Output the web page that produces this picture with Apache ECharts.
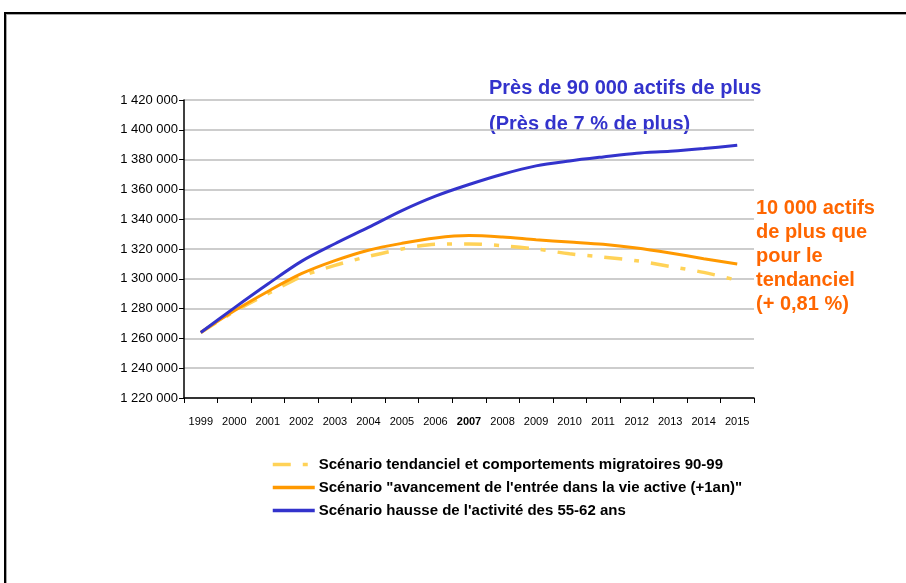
<!DOCTYPE html>
<html>
<head>
<meta charset="utf-8">
<script src="https://cdn.jsdelivr.net/npm/echarts@6/dist/echarts.min.js"></script>
<style>
  html, body { margin: 0; padding: 0; background: #fff; }
  #main { width: 906px; height: 583px; }
</style>
</head>
<body>
<div id="main"></div>
<script>
// données
var annees = ['1999', '2000', '2001', '2002', '2003', '2004', '2005', '2006', '2007',
    '2008', '2009', '2010', '2011', '2012', '2013', '2014', '2015'];
var tendanciel = [1264000, 1278000, 1290000, 1301500, 1309000, 1315000, 1320000, 1323200, 1323400,
    1322200, 1320000, 1316800, 1314600, 1312100, 1308300, 1304300, 1299000];
var avancement = [1264000, 1278500, 1291500, 1303400, 1312200, 1319200, 1323800, 1327400, 1329000,
    1328000, 1326200, 1324700, 1323200, 1320700, 1317300, 1313500, 1310000];
var hausse = [1264000, 1280500, 1296500, 1311700, 1323500, 1334500, 1345800, 1355500, 1363300,
    1370200, 1375800, 1379100, 1381800, 1384300, 1385600, 1387400, 1389600];
var nomsSeries = [
    'Scénario tendanciel et comportements migratoires 90-99',
    'Scénario "avancement de l\'entrée dans la vie active (+1an)"',
    'Scénario hausse de l\'activité des 55-62 ans'
];
var yMin = 1220000, yMax = 1420000, yPas = 20000;
var texteBleu = ['Près de 90 000 actifs de plus', '(Près de 7 % de plus)'];
var texteOrange = ['10 000 actifs', 'de plus que', 'pour le', 'tendanciel', '(+ 0,81 %)'];

var myChart = echarts.init(document.getElementById('main'));

function milliers(v) {
    return String(v).replace(/\B(?=(\d{3})+(?!\d))/g, ' ');
}

var option = {
    animation: false,
    backgroundColor: '#fff',
    textStyle: { fontFamily: 'Liberation Sans, Arial, sans-serif' },
    grid: { left: 184, right: 152, top: 100, bottom: 185 },
    legend: {
        orient: 'vertical',
        left: 266,
        top: 452,
        itemWidth: 42,
        itemHeight: 14,
        itemGap: 8,
        itemStyle: { opacity: 0 },
        lineStyle: { width: 3.5 },
        textStyle: { fontSize: 15, fontWeight: 'bold', color: '#000', padding: [0, 0, 0, -1] },
        data: nomsSeries
    },
    xAxis: {
        type: 'category',
        data: annees,
        boundaryGap: true,
        axisLine: { lineStyle: { color: '#000', width: 1.5 } },
        axisTick: { show: true, length: 5, lineStyle: { color: '#000' } },
        axisLabel: {
            margin: 18,
            fontSize: 11,
            color: '#000',
            interval: 0,
            formatter: function (v) { return v === '2007' ? '{b|' + v + '}' : v; },
            rich: { b: { fontSize: 11, fontWeight: 'bold', color: '#000' } }
        },
        splitLine: { show: false }
    },
    yAxis: {
        type: 'value',
        min: yMin,
        max: yMax,
        interval: yPas,
        axisLine: { show: true, lineStyle: { color: '#000', width: 1.5 } },
        axisTick: { show: true, length: 5, lineStyle: { color: '#000' } },
        axisLabel: { margin: 6, fontSize: 13, color: '#000', formatter: milliers },
        splitLine: { lineStyle: { color: '#bdbdbd', width: 1.5 } }
    },
    series: [
        {
            name: nomsSeries[0],
            type: 'line',
            data: tendanciel,
            symbol: 'none',
            smooth: 0.3,
            z: 2,
            itemStyle: { color: '#ffd257' },
            lineStyle: { color: '#ffd257', width: 3.5, type: [18, 12, 5, 12] }
        },
        {
            name: nomsSeries[1],
            type: 'line',
            data: avancement,
            symbol: 'none',
            smooth: 0.3,
            z: 3,
            itemStyle: { color: '#ff9900' },
            lineStyle: { color: '#ff9900', width: 3 }
        },
        {
            name: nomsSeries[2],
            type: 'line',
            data: hausse,
            symbol: 'none',
            smooth: 0.3,
            z: 4,
            itemStyle: { color: '#3333cc' },
            lineStyle: { color: '#3333cc', width: 3 }
        }
    ],
    graphic: [
        {
            type: 'polyline',
            shape: { points: [[5, 583], [5, 13], [906, 13]] },
            style: { stroke: '#000', lineWidth: 2, fill: null, shadowColor: 'rgba(0,0,0,0.35)', shadowOffsetX: 1, shadowOffsetY: 1 }
        },
        {
            type: 'text',
            left: 489,
            top: 70,
            style: {
                text: texteBleu.join('\n'),
                fill: '#3333cc',
                font: 'bold 20px "Liberation Sans", Arial, sans-serif',
                lineHeight: 36
            }
        },
        {
            type: 'text',
            left: 756,
            top: 196,
            style: {
                text: texteOrange.join('\n'),
                fill: '#ff6600',
                font: 'bold 20px "Liberation Sans", Arial, sans-serif',
                lineHeight: 24
            }
        }
    ]
};

myChart.setOption(option);
</script>
</body>
</html>
